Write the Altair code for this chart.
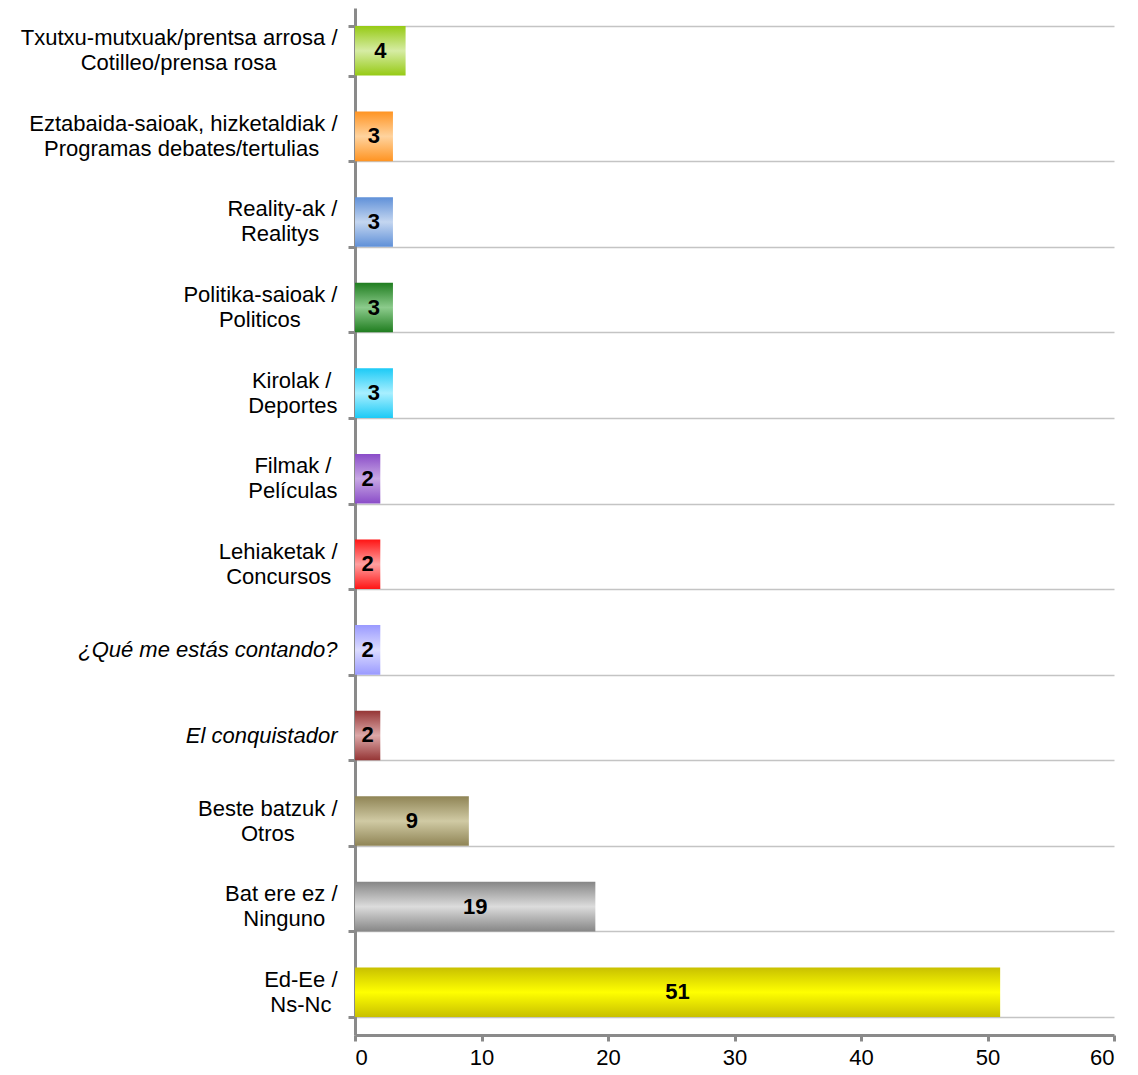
import altair as alt
import pandas as pd

# ---- data ----
categories = [
    "Txutxu-mutxuak/prentsa arrosa /|Cotilleo/prensa rosa",
    "Eztabaida-saioak, hizketaldiak /|Programas debates/tertulias",
    "Reality-ak /|Realitys",
    "Politika-saioak /|Politicos",
    "Kirolak /|Deportes",
    "Filmak /|Películas",
    "Lehiaketak /|Concursos",
    "¿Qué me estás contando?",
    "El conquistador",
    "Beste batzuk /|Otros",
    "Bat ere ez /|Ninguno",
    "Ed-Ee /|Ns-Nc",
]
values = [4, 3, 3, 3, 3, 2, 2, 2, 2, 9, 19, 51]
x_ticks = [0, 10, 20, 30, 40, 50, 60]

# ---- styles ----
edge_colors = ["#96ca14", "#ff9422", "#5f90d8", "#1f7d1f", "#1ccaf6", "#8a4cc8",
               "#ff1414", "#9a9aff", "#953535", "#8f8455", "#868686", "#c8c000"]
mid_colors = ["#d6eca4", "#ffd39e", "#c4d6f0", "#8ccb8c", "#a8efff", "#c8a8e4",
              "#ffa0a0", "#dcdcff", "#dca8a8", "#d0caa4", "#dcdcdc", "#ffff00"]

# Arial / Liberation Sans advance widths (per 1000 em), used to centre the
# two lines of each axis label relative to each other.
ARIAL = {
    " ": 278, "\u00a0": 278, "/": 278, "-": 333, ",": 278, "?": 556, "¿": 611,
    "a": 556, "b": 556, "c": 500, "d": 556, "e": 556, "f": 278, "g": 556, "h": 556,
    "i": 222, "j": 222, "k": 500, "l": 222, "m": 833, "n": 556, "o": 556, "p": 556,
    "q": 556, "r": 333, "s": 500, "t": 278, "u": 556, "v": 500, "w": 722, "x": 500,
    "y": 500, "z": 500, "í": 278, "é": 556, "á": 556,
    "A": 667, "B": 667, "C": 722, "D": 722, "E": 667, "F": 611, "G": 778, "H": 722,
    "I": 278, "J": 500, "K": 667, "L": 556, "M": 833, "N": 722, "O": 778, "P": 667,
    "Q": 778, "R": 722, "S": 667, "T": 611, "U": 722, "V": 667, "W": 944, "X": 667,
    "Y": 667, "Z": 611,
}


def text_width(s):
    return sum(ARIAL.get(c, 556) for c in s)


def pad_label(cat):
    lines = cat.split("|")
    if len(lines) == 1:
        return cat
    ws = [text_width(l) for l in lines]
    wmax = max(ws)
    out = []
    for l, w in zip(lines, ws):
        n = int(round((wmax - w) / 2 / 278))
        # trailing zero-width space keeps the padding from being trimmed
        out.append(l + "\u00a0" * n + ("\u200b" if n else ""))
    return "|".join(out)


labels = [pad_label(c) for c in categories]
df = pd.DataFrame({
    "label": labels,
    "value": values,
    "idx": list(range(len(labels))),
})

FONT = "Liberation Sans"
AXIS_GRAY = "#8a8a8a"

# all tests are safe when datum.value is undefined (extra band-extent tick)
italic_test = "indexof(datum.value + '', '¿Qué') === 0 || indexof(datum.value + '', 'El conq') === 0"
first_test = "indexof(datum.value + '', 'Txutxu') === 0"
multiline_test = "indexof(datum.value + '', '|') >= 0"

Y = alt.Y(
    "label:N",
    sort=alt.EncodingSortField(field="idx", op="min", order="ascending"),
    scale=alt.Scale(paddingInner=0.42, paddingOuter=0.21),
    axis=alt.Axis(
        title=None,
        tickBand="extent",
        labelExpr="split(datum.label + '', '|')",
        labelFont=FONT,
        labelFontSize=22,
        labelColor="#000000",
        labelAlign="right",
        labelLimit=500,
        labelPadding=11,
        labelLineHeight=25,
        labelBaseline={"condition": {"test": multiline_test, "value": "line-bottom"}, "value": "middle"},
        labelFontStyle={"condition": {"test": italic_test, "value": "italic"}, "value": "normal"},
        domainColor=AXIS_GRAY,
        domainWidth=3,
        tickColor=AXIS_GRAY,
        tickWidth=3,
        tickSize=7,
        grid=True,
        gridColor="#c4c4c4",
        gridWidth=1.5,
        gridOpacity={"condition": {"test": first_test, "value": 0}, "value": 1},
    ),
)

X_AXIS = alt.Axis(
    title=None,
    values=x_ticks,
    grid=False,
    labelFont=FONT,
    labelFontSize=22,
    labelColor="#000000",
    labelPadding=6,
    domainColor=AXIS_GRAY,
    domainWidth=3,
    tickColor=AXIS_GRAY,
    tickWidth=3,
    tickSize=6,
)
X_SCALE = alt.Scale(domain=[0, 60], nice=False)

layers = []
for i, (edge, mid) in enumerate(zip(edge_colors, mid_colors)):
    grad = alt.LinearGradient(
        gradient="linear",
        stops=[
            alt.GradientStop(color=edge, offset=0),
            alt.GradientStop(color=mid, offset=0.5),
            alt.GradientStop(color=edge, offset=1),
        ],
        x1=0, x2=0, y1=0, y2=1,
    )
    layers.append(
        alt.Chart(df)
        .transform_filter(alt.datum.idx == i)
        .mark_bar(color=grad)
        .encode(x=alt.X("value:Q", scale=X_SCALE, axis=X_AXIS), y=Y)
    )

text = (
    alt.Chart(df)
    .transform_calculate(mid="datum.value / 2")
    .mark_text(font=FONT, fontSize=22, fontWeight="bold", color="#000000", baseline="middle")
    .encode(x=alt.X("mid:Q", scale=X_SCALE, axis=X_AXIS), y=Y, text="value:Q")
)

chart = (
    alt.layer(*layers, text)
    .properties(
        width=759,
        height=1027,
        autosize=alt.AutoSizeParams(type="none"),
        padding={"left": 347, "top": 0, "right": 10, "bottom": 50},
    )
    .configure_view(stroke=None)
)

chart.save("out.html", embed_options={"renderer": "svg", "actions": False})
